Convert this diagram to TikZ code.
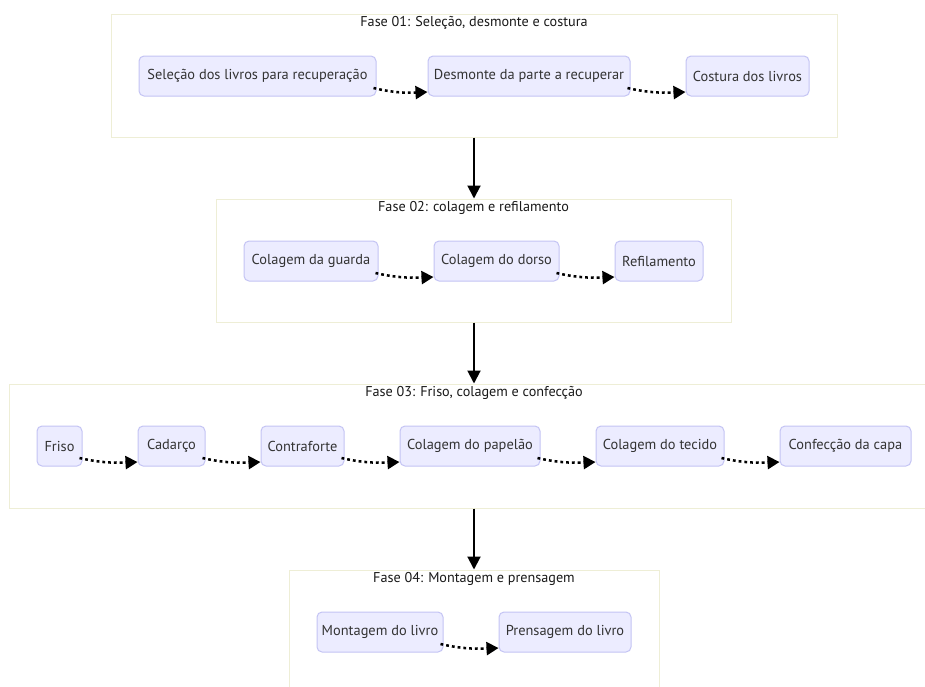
\documentclass[tikz,border=0pt]{standalone}
\usepackage{fontspec}
\setmainfont{PT Sans}
\usetikzlibrary{arrows.meta,calc}
\definecolor{nodefill}{HTML}{ECECFF}
\definecolor{nodeline}{HTML}{C4C4F4}
\definecolor{clusterline}{HTML}{EEEED6}
\definecolor{txt}{HTML}{333333}
\tikzset{
  stepbox/.style={draw=nodeline, fill=nodefill, line width=1pt, rounded corners=5pt,
    minimum height=40pt, inner sep=0pt, text=txt, font=\fontsize{14.4}{16}\selectfont},
  cluster/.style={draw=clusterline, fill=white, line width=1pt, inner sep=0pt},
  phasetitle/.style={text=black!90, font=\fontsize{14.2}{16}\selectfont, inner sep=0pt, anchor=north},
  flow/.style={line width=2.5pt, dash pattern=on 2.8pt off 3pt, -{Triangle[length=12pt,width=13pt]}},
  phase/.style={line width=2pt, -{Triangle[length=13pt,width=13pt]}}
}
\begin{document}
\begin{tikzpicture}[x=1pt,y=-1pt]
\useasboundingbox (0,0) rectangle (925,686);

% phase frames
\node[cluster, minimum width=726pt, minimum height=123pt] (c1) at (474,75.5) {};
\node[cluster, minimum width=515pt, minimum height=123pt] (c2) at (473.5,260.5) {};
\node[cluster, minimum width=930pt, minimum height=124pt] (c3) at (474,446) {};
\node[cluster, minimum width=370pt, minimum height=124pt] (c4) at (474,632) {};

\node[phasetitle] (t1) at ($(c1.north)+(0,3)$) {Fase 01: Seleção, desmonte e costura};
\node[phasetitle] (t2) at ($(c2.north)+(0,3)$) {Fase 02: colagem e refilamento};
\node[phasetitle] (t3) at ($(c3.north)+(0,3)$) {Fase 03: Friso, colagem e confecção};
\node[phasetitle] (t4) at ($(c4.north)+(0,3)$) {Fase 04: Montagem e prensagem};

% phase 01
\node[stepbox, minimum width=237pt] (a1) at (257.5,76) {Seleção dos livros para recuperação};
\node[stepbox, minimum width=202pt] (a2) at (529,76) {Desmonte da parte a recuperar};
\node[stepbox, minimum width=123pt] (a3) at (747.5,76) {Costura dos livros};

% phase 02
\node[stepbox, minimum width=134pt] (b1) at (311,261) {Colagem da guarda};
\node[stepbox, minimum width=125pt] (b2) at (496.5,261) {Colagem do dorso};
\node[stepbox, minimum width=88pt] (b3) at (659,261) {Refilamento};

% phase 03
\node[stepbox, minimum width=45pt] (d1) at (59.5,446) {Friso};
\node[stepbox, minimum width=67pt] (d2) at (171.5,446) {Cadarço};
\node[stepbox, minimum width=83pt] (d3) at (302.5,446) {Contraforte};
\node[stepbox, minimum width=140pt] (d4) at (470,446) {Colagem do papelão};
\node[stepbox, minimum width=128pt] (d5) at (660,446) {Colagem do tecido};
\node[stepbox, minimum width=131pt] (d6) at (845.5,446) {Confecção da capa};

% phase 04
\node[stepbox, minimum width=126pt] (e1) at (380,632) {Montagem do livro};
\node[stepbox, minimum width=132pt] (e2) at (565,632) {Prensagem do livro};

% dotted links inside each phase
\foreach \p/\q in {a1/a2,a2/a3,b1/b2,b2/b3,d1/d2,d2/d3,d3/d4,d4/d5,d5/d6,e1/e2}{
  \draw[flow] ($(\p.east)+(-3,12)$) .. controls ($(\p.east)+(18,17)$) and ($(\q.west)+(-20,17)$) .. ($(\q.west)+(0,16)$);
}

% links between phases
\draw[phase] (c1.south) -- (c1.south |- c2.north);
\draw[phase] (c2.south -| c1.south) -- (c1.south |- c3.north);
\draw[phase] (c3.south) -- (c3.south |- c4.north);
\end{tikzpicture}
\end{document}
